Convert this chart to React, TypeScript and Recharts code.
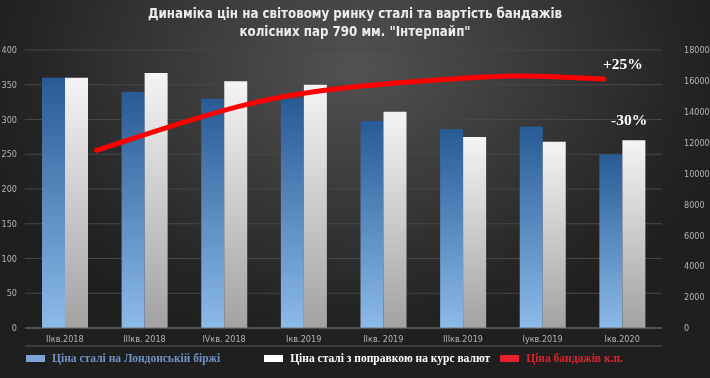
import React from "react";
import {
  ComposedChart, Bar, Line, XAxis, YAxis, CartesianGrid, Legend,
} from "recharts";

const quarters = ["IIкв.2018", "IIIкв. 2018", "IVкв. 2018", "Iкв.2019", "IIкв. 2019", "IIIкв.2019", "Iукв.2019", "Iкв.2020"];
const londonPrice = [360, 340, 330, 330, 298, 286, 290, 250];
const adjustedPrice = [360, 367, 355, 350, 311, 275, 268, 270];

const trendPos = [0.9, 2, 3, 4, 5, 6, 6.7, 7.27];
const bandagePrice = [11500, 13330, 14730, 15540, 15990, 16300, 16250, 16120];

const leftTicks = [0, 50, 100, 150, 200, 250, 300, 350, 400];
const rightTicks = [0, 2000, 4000, 6000, 8000, 10000, 12000, 14000, 16000, 18000];
const lineAxisTicks = [0, 1, 2, 3, 4, 5, 6, 7, 8];

const titleLines = ["Динаміка цін на світовому ринку сталі та вартість бандажів", "колісних пар 790 мм. \"Інтерпайп\""];
const legendItems = [
  { label: "Ціна сталі на Лондонській біржі", box: "#7fa3d6", text: "#7193c6" },
  { label: "Ціна сталі з поправкою на курс валют", box: "#ffffff", text: "#ffffff" },
  { label: "Ціна бандажів к.п.", box: "#e8222c", text: "#e0222c" },
];

const barData = quarters.map((q, i) => ({ q, london: londonPrice[i], adjusted: adjustedPrice[i] }));
const lineData = trendPos.map((t, i) => ({ t, bandage: bandagePrice[i] }));

const tickStyle = { fill: "#b4b4b4", fontSize: 9, fontFamily: "'Liberation Sans Narrow', 'DejaVu Sans Condensed', sans-serif" };

const LegendContent = () => (
  <div style={{ display: "flex", alignItems: "center", fontFamily: "'Liberation Serif', serif", fontSize: 11.5, fontWeight: "bold" }}>
    {legendItems.map((it, i) => (
      <div key={i} style={{ display: "flex", alignItems: "center", marginLeft: i === 0 ? 26 : [0, 44, 10][i] }}>
        <div style={{ width: 19, height: 7, background: it.box, marginRight: 7 }} />
        <span style={{ color: it.text, whiteSpace: "nowrap" }}>{it.label}</span>
      </div>
    ))}
  </div>
);

export default function App() {
  return (
    <div style={{
      position: "fixed", left: 0, top: 0, width: 710, height: 378, overflow: "hidden",
      background: "radial-gradient(ellipse 55% 75% at 50% 18%, #525252 0%, #3a3a3a 45%, #242424 85%, #1f1f1f 100%)",
    }}>
      <div style={{
        position: "absolute", left: 0, top: 5, width: 710, textAlign: "center", color: "#ececec",
        fontFamily: "'Liberation Sans Narrow', 'DejaVu Sans Condensed', sans-serif", fontWeight: "bold", fontSize: 13.2, lineHeight: "18px",
      }}>
        {titleLines.map((l, i) => <div key={i}>{l}</div>)}
      </div>
      <ComposedChart width={710} height={378} data={barData} barGap={0}
        margin={{ top: 50, right: 0, bottom: 29, left: 0 }}>
        <defs>
          <linearGradient id="blueGrad" x1="0" y1="0" x2="0" y2="1">
            <stop offset="0%" stopColor="#285a95" />
            <stop offset="100%" stopColor="#8cbbe9" />
          </linearGradient>
          <linearGradient id="whiteGrad" x1="0" y1="0" x2="0" y2="1">
            <stop offset="0%" stopColor="#f4f4f4" />
            <stop offset="100%" stopColor="#a2a2a2" />
          </linearGradient>
        </defs>
        <CartesianGrid vertical={false} stroke="#474747" yAxisId="left" />
        <XAxis dataKey="q" xAxisId="cat" height={18} axisLine={{ stroke: "#707070" }} tickLine={false} tick={tickStyle} interval={0} />
        <XAxis xAxisId="line" type="number" dataKey="t" domain={[0, 8]} ticks={lineAxisTicks} allowDataOverflow
          height={3} tick={false} tickSize={3} tickLine={{ stroke: "#5a5a5a" }} axisLine={{ stroke: "#5a5a5a" }} />
        <YAxis yAxisId="left" domain={[0, 400]} ticks={leftTicks} width={25} axisLine={false} tickLine={false} tick={tickStyle} />
        <YAxis yAxisId="right" orientation="right" domain={[0, 18000]} ticks={rightTicks} width={48} axisLine={false} tickLine={false} tickMargin={16} tick={tickStyle} />
        <Bar dataKey="london" xAxisId="cat" yAxisId="left" barSize={23} fill="url(#blueGrad)" isAnimationActive={false} />
        <Bar dataKey="adjusted" xAxisId="cat" yAxisId="left" barSize={23} fill="url(#whiteGrad)" isAnimationActive={false} />
        <Line data={lineData} dataKey="bandage" xAxisId="line" yAxisId="right" type="natural" stroke="#ff0000" strokeWidth={5}
          dot={false} strokeLinecap="round" isAnimationActive={false} />
        <Legend verticalAlign="middle" align="center" layout="horizontal" content={<LegendContent />}
          wrapperStyle={{ position: "absolute", top: 352, left: 0, width: 710 }} />
      </ComposedChart>
      <div style={{ position: "absolute", left: 603, top: 55, color: "#ffffff", fontFamily: "'Liberation Serif', serif", fontWeight: "bold", fontSize: 15.5 }}>+25%</div>
      <div style={{ position: "absolute", left: 611, top: 111, color: "#ffffff", fontFamily: "'Liberation Serif', serif", fontWeight: "bold", fontSize: 15.5 }}>-30%</div>
    </div>
  );
}
